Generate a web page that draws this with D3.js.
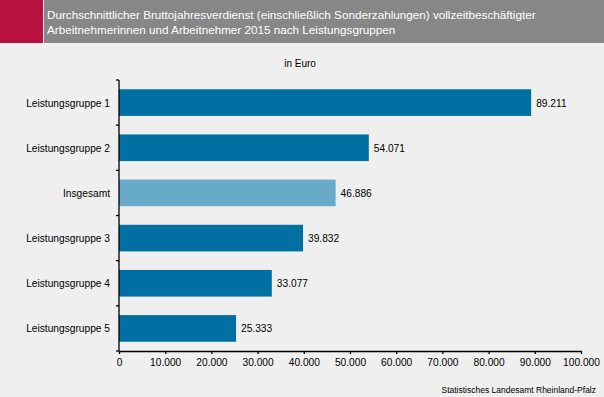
<!DOCTYPE html>
<html>
<head>
<meta charset="utf-8">
<script src="https://cdn.jsdelivr.net/npm/d3@7"></script>
<style>
  body { margin: 0; background: #eeefee; }
  text { font-family: "Liberation Sans", Arial, sans-serif; }
</style>
</head>
<body>
<script>
var categories = ["Leistungsgruppe 1", "Leistungsgruppe 2", "Insgesamt", "Leistungsgruppe 3", "Leistungsgruppe 4", "Leistungsgruppe 5"];
var values = [89211, 54071, 46886, 39832, 33077, 25333];
var highlight = ["Insgesamt"];
var tickValues = [0, 10000, 20000, 30000, 40000, 50000, 60000, 70000, 80000, 90000, 100000];
var titleLines = ["Durchschnittlicher Bruttojahresverdienst (einschließlich Sonderzahlungen) vollzeitbeschäftigter",
  "Arbeitnehmerinnen und Arbeitnehmer 2015 nach Leistungsgruppen"];

var width = 604, height = 397;
var fmt = function(v) { return d3.format(",")(v).replace(/,/g, "."); };

var svg = d3.select("body").append("svg")
  .attr("width", width)
  .attr("height", height);

svg.append("rect").attr("width", width).attr("height", height).attr("fill", "#eeefee");

// header
svg.append("rect").attr("x", 0).attr("y", 0).attr("width", 43).attr("height", 43).attr("fill", "#b8103f");
svg.append("rect").attr("x", 44).attr("y", 0).attr("width", width - 44).attr("height", 43).attr("fill", "#878787");
svg.selectAll(".title")
  .data(titleLines)
  .enter().append("text")
    .attr("class", "title")
    .attr("x", 47)
    .attr("y", function(d, i) { return 19 + i * 15; })
    .attr("fill", "#ffffff")
    .style("font-size", "11.7px")
    .text(function(d) { return d; });

svg.append("text")
  .attr("x", 300).attr("y", 67)
  .attr("text-anchor", "middle")
  .style("font-size", "10px")
  .attr("fill", "#000")
  .text("in Euro");

var x = d3.scaleLinear().domain([0, 100000]).range([119, 581]);
var y = d3.scaleBand().domain(categories).range([80, 351]).paddingInner(0.41).paddingOuter(0.205);

svg.append("g")
  .selectAll(".bar")
  .data(categories)
  .enter().append("rect")
    .attr("class", "bar")
    .attr("x", x(0))
    .attr("y", function(d) { return y(d); })
    .attr("width", function(d, i) { return x(values[i]) - x(0); })
    .attr("height", y.bandwidth())
    .attr("fill", function(d) { return highlight.indexOf(d) >= 0 ? "#67abc9" : "#0070a3"; });

svg.append("g")
  .selectAll(".val")
  .data(categories)
  .enter().append("text")
    .attr("class", "val")
    .attr("x", function(d, i) { return x(values[i]) + 5; })
    .attr("y", function(d) { return y(d) + y.bandwidth() / 2 + 4; })
    .style("font-size", "10.2px")
    .attr("fill", "#000")
    .text(function(d, i) { return fmt(values[i]); });

// x axis
var xAxis = svg.append("g")
  .attr("transform", "translate(0,351)")
  .call(d3.axisBottom(x).tickValues(tickValues).tickSize(3).tickSizeOuter(0).tickFormat(fmt));
xAxis.select(".domain").attr("stroke", "#000").attr("stroke-width", 1.3);
xAxis.selectAll("line").attr("stroke-width", 1.3);
xAxis.selectAll("text").style("font-size", "10.2px").attr("fill", "#000").attr("dy", "0.9em");

// y axis with ticks at category boundaries
var bounds = d3.range(categories.length + 1).map(function(i) { return 80 + i * y.step(); });
svg.append("line")
  .attr("x1", 119).attr("x2", 119).attr("y1", 80).attr("y2", 351)
  .attr("stroke", "#000").attr("stroke-width", 1.3);
svg.selectAll(".ytick")
  .data(bounds)
  .enter().append("line")
    .attr("x1", 116).attr("x2", 119)
    .attr("y1", function(d) { return d; }).attr("y2", function(d) { return d; })
    .attr("stroke", "#000").attr("stroke-width", 1.3);
svg.selectAll(".ylab")
  .data(categories)
  .enter().append("text")
    .attr("x", 110)
    .attr("y", function(d) { return y(d) + y.bandwidth() / 2 + 4; })
    .attr("text-anchor", "end")
    .style("font-size", "10.2px")
    .attr("fill", "#000")
    .text(function(d) { return d; });

svg.append("text")
  .attr("x", 596).attr("y", 393)
  .attr("text-anchor", "end")
  .style("font-size", "8.5px")
  .attr("fill", "#000")
  .text("Statistisches Landesamt Rheinland-Pfalz");
</script>
</body>
</html>
